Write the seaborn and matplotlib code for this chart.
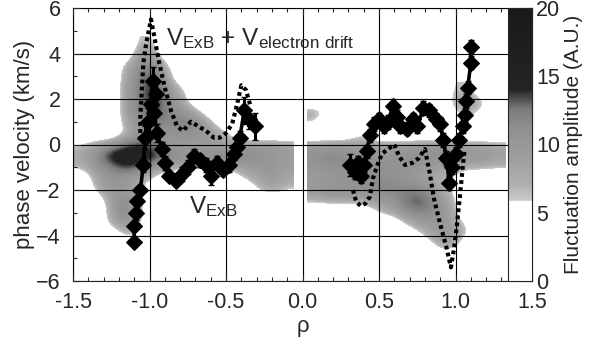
import numpy as np
import matplotlib
matplotlib.use("Agg")
import matplotlib.pyplot as plt
from matplotlib.colors import LinearSegmentedColormap
from matplotlib.ticker import MultipleLocator
import seaborn as sns

# fluctuation amplitude maps (A.U.), rows go from high to low velocity
rho_left_edges = [-1.5, -0.06]
vel_left_edges = [-4.75, 4.75]
amp_left = [
    [0, 0, 0, 0, 7, 6, 0, 0, 0, 0, 0, 0, 0, 0, 0],        # 4.5
    [0, 0, 0, 0, 10, 9, 0, 0, 0, 0, 0, 0, 0, 0, 0],       # 4.0
    [0, 0, 0, 7, 11, 12, 6, 0, 0, 0, 0, 0, 0, 0, 0],      # 3.5
    [0, 0, 0, 8, 12, 14, 8, 0, 0, 0, 0, 0, 0, 0, 0],      # 3.0
    [0, 0, 0, 9, 12, 15, 10, 6, 0, 0, 0, 0, 0, 0, 0],     # 2.5
    [0, 0, 0, 9, 12, 15, 11, 8, 0, 0, 0, 0, 0, 0, 0],     # 2.0
    [0, 0, 0, 9, 12, 14, 12, 10, 7, 0, 0, 0, 0, 0, 0],    # 1.5
    [0, 0, 0, 8, 11, 13, 11, 13, 11, 7, 0, 0, 0, 0, 0],   # 1.0
    [0, 0, 0, 6, 10, 12, 10, 11, 11, 9, 7, 0, 0, 0, 0],   # 0.5
    [6, 9, 11, 13, 14, 12, 10, 9, 9, 9, 9, 10, 10, 10, 9],       # 0.0
    [8, 11, 15, 16, 16, 15, 12, 11, 11, 12, 12, 12, 11, 10, 9],  # -0.5
    [7, 10, 12, 14, 13, 10, 9, 8, 7, 8, 8, 9, 10, 10, 9],        # -1.0
    [0, 8, 10, 10, 8, 6, 0, 0, 0, 0, 0, 6, 8, 10, 8],     # -1.5
    [0, 7, 10, 10, 8, 0, 0, 0, 0, 0, 0, 0, 6, 9, 6],      # -2.0
    [0, 0, 9, 12, 8, 0, 0, 0, 0, 0, 0, 0, 0, 0, 0],       # -2.5
    [0, 0, 8, 13, 8, 0, 0, 0, 0, 0, 0, 0, 0, 0, 0],       # -3.0
    [0, 0, 7, 10, 7, 0, 0, 0, 0, 0, 0, 0, 0, 0, 0],       # -3.5
    [0, 0, 0, 7, 6, 0, 0, 0, 0, 0, 0, 0, 0, 0, 0],        # -4.0
    [0, 0, 0, 0, 0, 0, 0, 0, 0, 0, 0, 0, 0, 0, 0],        # -4.5
]

rho_right_edges = [0.03, 1.33]
vel_right_edges = [-5.25, 2.75]
amp_right = [
    [0, 0, 0, 0, 0, 0, 0, 0, 0, 6, 7, 0, 0],             # 2.5
    [0, 0, 0, 0, 0, 0, 0, 0, 0, 7, 9, 7, 0],             # 2.0
    [8, 6, 0, 0, 0, 0, 0, 0, 0, 6, 8, 6, 0],             # 1.5
    [7, 0, 0, 7, 6, 0, 0, 0, 0, 0, 7, 0, 0],             # 1.0
    [0, 0, 0, 6, 0, 0, 0, 0, 0, 0, 0, 0, 0],             # 0.5
    [9, 10, 10, 9, 9, 9, 9, 10, 10, 10, 9, 9, 8],        # 0.0
    [11, 12, 11, 11, 10, 10, 11, 11, 11, 11, 10, 10, 9], # -0.5
    [10, 11, 11, 11, 11, 11, 11, 10, 9, 9, 8, 8, 7],     # -1.0
    [9, 10, 10, 11, 11, 11, 10, 9, 7, 6, 0, 0, 0],       # -1.5
    [10, 11, 11, 11, 12, 12, 12, 12, 9, 6, 0, 0, 0],     # -2.0
    [7, 8, 8, 8, 9, 10, 13, 14, 11, 8, 0, 0, 0],         # -2.5
    [0, 0, 0, 0, 6, 8, 11, 12, 11, 9, 0, 0, 0],          # -3.0
    [0, 0, 0, 0, 0, 0, 7, 9, 10, 9, 6, 0, 0],            # -3.5
    [0, 0, 0, 0, 0, 0, 0, 6, 9, 10, 6, 0, 0],            # -4.0
    [0, 0, 0, 0, 0, 0, 0, 0, 7, 9, 0, 0, 0],             # -4.5
    [0, 0, 0, 0, 0, 0, 0, 0, 0, 0, 0, 0, 0],             # -5.0
]

# V_ExB (solid with diamonds)
exb_left_rho = [-1.10, -1.10, -1.09, -1.08, -1.06, -1.04, -1.03, -1.01, -0.99, -0.98, -0.96,
                -0.97, -0.95, -0.92, -0.90, -0.87, -0.83, -0.79, -0.75, -0.71, -0.67, -0.63,
                -0.60, -0.56, -0.52, -0.48, -0.45, -0.43, -0.41, -0.38, -0.35, -0.31]
exb_left_v = [-4.3, -3.6, -3.0, -2.5, -2.0, -0.9, 0.3, 1.0, 1.8, 2.8, 2.2,
              1.4, 0.5, -0.2, -0.8, -1.4, -1.6, -1.3, -1.0, -0.5, -0.7, -0.9,
              -1.4, -0.8, -1.1, -0.9, -0.4, -0.1, 0.3, 1.5, 1.1, 0.8]
exb_left_err = [0.2, 0.2, 0.3, 0.2, 0.2, 0.3, 0.5, 0.6, 0.8, 0.6, 0.5,
                0.5, 0.4, 0.3, 0.3, 0.2, 0.2, 0.3, 0.3, 0.3, 0.3, 0.3,
                0.4, 0.3, 0.3, 0.3, 0.3, 0.3, 0.3, 0.6, 0.4, 0.6]

exb_right_rho = [0.31, 0.34, 0.36, 0.38, 0.40, 0.42, 0.44, 0.47, 0.50, 0.53, 0.56,
                 0.59, 0.62, 0.64, 0.68, 0.72, 0.75, 0.79, 0.83, 0.87, 0.90, 0.92,
                 0.94, 0.96, 0.98, 1.00, 1.02, 1.05, 1.06, 1.07, 1.08, 1.10, 1.10]
exb_right_v = [-0.9, -1.2, -0.8, -1.4, -0.9, -0.3, 0.4, 0.9, 1.1, 0.8, 1.0,
               1.7, 1.2, 0.8, 0.7, 1.1, 0.8, 1.6, 1.5, 1.1, 0.9, 0.2,
               -0.6, -1.7, -1.0, -0.4, 0.2, 0.8, 1.3, 1.9, 2.5, 3.6, 4.3]
exb_right_err = [0.5, 0.3, 0.3, 0.3, 0.3, 0.3, 0.3, 0.3, 0.3, 0.3, 0.3,
                 0.3, 0.3, 0.3, 0.3, 0.3, 0.3, 0.3, 0.3, 0.3, 0.3, 0.3,
                 0.3, 0.3, 0.3, 0.3, 0.3, 0.3, 0.3, 0.3, 0.3, 0.3, 0.3]

# V_ExB + V_electron drift (dotted)
drift_left_rho = [-1.06, -1.06, -1.05, -1.04, -1.02, -0.99, -0.97, -0.94, -0.90, -0.86, -0.82,
                  -0.78, -0.73, -0.68, -0.63, -0.58, -0.54, -0.50, -0.46, -0.43, -0.40, -0.37, -0.34]
drift_left_v = [0.2, 1.2, 2.4, 3.6, 4.5, 5.5, 4.8, 3.7, 2.5, 1.5, 0.8,
                0.6, 1.0, 0.8, 0.6, 0.3, 0.3, 0.5, 0.9, 1.7, 2.6, 2.4, 1.7]

drift_right_rho = [0.33, 0.35, 0.38, 0.41, 0.44, 0.46, 0.49, 0.52, 0.56, 0.60, 0.63, 0.67,
                   0.72, 0.76, 0.80, 0.83, 0.86, 0.90, 0.94, 0.97, 0.99, 1.01, 1.03, 1.05, 1.06]
drift_right_v = [-2.0, -2.5, -2.7, -2.6, -2.3, -1.5, -0.9, -0.4, -0.2, 0.0, -0.5, -0.9,
                 -0.8, -0.6, -0.2, -1.2, -2.4, -3.5, -4.5, -5.4, -4.6, -3.5, -2.2, -0.8, -0.2]

cbar_ticks = [0, 5, 10, 15, 20]

sns.set_style("ticks")
plt.rcParams['font.family'] = ['Liberation Sans', 'DejaVu Sans']
plt.rcParams['mathtext.default'] = 'regular'
plt.rcParams['font.size'] = 15

# grey levels like the IDL colour table: white below ~6, black above ~14
cmap = LinearSegmentedColormap.from_list("fluct", [
    (0.0, (1, 1, 1)), (0.29, (1, 1, 1)), (0.295, (0.80, 0.80, 0.80)),
    (0.35, (0.69, 0.69, 0.69)), (0.45, (0.62, 0.62, 0.62)), (0.55, (0.57, 0.57, 0.57)),
    (0.63, (0.48, 0.48, 0.48)), (0.67, (0.30, 0.30, 0.30)), (0.70, (0.14, 0.14, 0.14)),
    (1.0, (0.10, 0.10, 0.10))])

fig = plt.figure(figsize=(5.95, 3.37), dpi=100)
ax = fig.add_axes([73/595, 1 - 281/337, 459/595, 273/337])
cax = fig.add_axes([508/595, 1 - 281/337, 24/595, 273/337])

im = ax.imshow(amp_left, cmap=cmap, vmin=0, vmax=20, aspect='auto', interpolation='bicubic',
               extent=[rho_left_edges[0], rho_left_edges[1], vel_left_edges[0], vel_left_edges[1]],
               zorder=0)
ax.imshow(amp_right, cmap=cmap, vmin=0, vmax=20, aspect='auto', interpolation='bicubic',
          extent=[rho_right_edges[0], rho_right_edges[1], vel_right_edges[0], vel_right_edges[1]],
          zorder=0)

for r, v in [(drift_left_rho, drift_left_v), (drift_right_rho, drift_right_v)]:
    sns.lineplot(x=r, y=v, sort=False, estimator=None, color='k', lw=3,
                 linestyle=(0, (0.9, 0.8)), ax=ax, zorder=3)

for r, v, e in [(exb_left_rho, exb_left_v, exb_left_err), (exb_right_rho, exb_right_v, exb_right_err)]:
    ax.errorbar(r, v, yerr=e, fmt='none', ecolor='k', elinewidth=2.2, capsize=2, zorder=3)
    sns.lineplot(x=r, y=v, sort=False, estimator=None, color='k', lw=2.6, marker='D',
                 markersize=8.5, markeredgecolor='k', ax=ax, zorder=4)

ax.set_xlim(-1.5, 1.5)
ax.set_ylim(-6, 6)
ax.xaxis.set_minor_locator(MultipleLocator(0.1))
ax.yaxis.set_major_locator(MultipleLocator(2))
ax.yaxis.set_minor_locator(MultipleLocator(1))
ax.set_xticks(np.arange(-1.5, 1.51, 0.5))
ax.set_xticklabels([f"{t:.1f}" for t in np.arange(-1.5, 1.51, 0.5)])
ax.tick_params(which='both', direction='in', top=True, right=True, width=0.8, labelsize=15.5)
ax.tick_params(which='major', length=5)
ax.tick_params(which='minor', length=3)
ax.tick_params(axis='x', pad=8)
ax.tick_params(axis='y', pad=9)
ax.set_axisbelow(False)
ax.grid(True, which='major', color='k', lw=0.8)
for s in ax.spines.values():
    s.set_linewidth(0.8)
ax.set_xlabel("ρ", fontsize=16, labelpad=2)
ax.set_ylabel("phase velocity (km/s)", fontsize=16, labelpad=1)

ax.text(-0.89, 4.35, r"V$_{ExB}$ + V$_{electron\ drift}$", fontsize=17.5, ha='left', va='baseline', zorder=5)
ax.text(-0.74, -3.0, r"V$_{ExB}$", fontsize=17.5, ha='left', va='baseline', zorder=5)

cb = fig.colorbar(im, cax=cax, ticks=cbar_ticks)
cb.outline.set_linewidth(0.8)
cax.tick_params(length=0, pad=3, labelsize=15.5)
cax.set_ylabel("Fluctuation amplitude (A.U.)", fontsize=15, labelpad=3)

fig.savefig("out.png", dpi=100)
